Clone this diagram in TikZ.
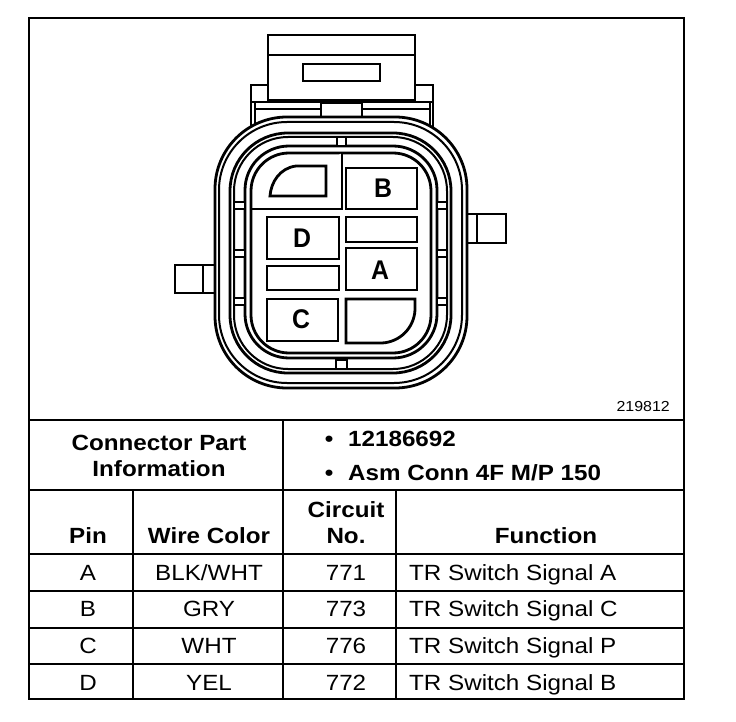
\documentclass[tikz,border=0pt]{standalone}
\usepackage{fontspec}
\setmainfont[FakeStretch=1.1]{Liberation Sans}
\newfontfamily\pinfont[FakeStretch=0.92]{Liberation Sans}
\tikzset{
  rule/.style={line width=2.8pt},
  shell/.style={line width=2pt},
  part/.style={line width=2.8pt,fill=white},
  cell/.style={inner sep=0pt,anchor=base,font=\fontsize{22}{25}\selectfont},
  head/.style={cell,font=\fontsize{22}{25}\selectfont\bfseries},
  pinletter/.style={inner sep=0pt,font=\fontsize{27}{30}\selectfont\pinfont\bfseries},
}
\begin{document}
\begin{tikzpicture}[x=1pt,y=-1pt]
   \useasboundingbox (0,0) rectangle (736,722);
   % Latch and shoulders (drawn here to be below the shell)
   \draw [part] (251,128) -- (251,85) -- (433,85) -- (433,128);
   \draw [shell] (255,128) -- (255,102) (430,128) -- (430,102);
   \draw [part] (268,35) rectangle (415,100);
   \draw [shell] (268,55) -- (415,55);
   \draw [part] (303,64) rectangle (380,81);
   \draw [part] (251,102) -- (433,102);
   \draw [shell] (255,109) -- (321,109) (362,109) -- (430,109);
   \draw [part] (321,103) rectangle (362,117);
   % Side tabs
   \draw [part] (218,265) -- (175,265) -- (175,293) -- (218,293);
   \draw [part] (203,265) -- (203,293);
   \draw [part] (467,214) -- (506,214) -- (506,243) -- (467,243);
   \draw [part] (477,214) -- (477,243);
   % Shell, outside to inside
   \draw [part,rounded corners=72] (215,117) rectangle (467,388);
   \draw [shell,rounded corners=68] (219,122) rectangle (462,383);
   \draw [part,rounded corners=58] (230,133) rectangle (451,373);
   \draw [shell,rounded corners=54] (234,137) rectangle (447,369);
   \draw [part,rounded corners=44] (245,146) rectangle (437,358);
   \draw [part,rounded corners=38] (251,153) rectangle (431,353);
   % Ribs
   \foreach \ypos in {202,250,298} {
      \draw [shell,fill=white] (234,\ypos) rectangle (245,\ypos+7);
      \draw [shell,fill=white] (437,\ypos) rectangle (447,\ypos+7);
   }
   \draw [shell,fill=white] (337,137) rectangle (346,146);
   \draw [shell,fill=white] (336,360) rectangle (347,369);
   % Cavities
   \draw [part] (342,153) -- (342,209) -- (251,209);
   \draw [part] (270,196) -- (326,196) -- (326,166) -- (296,166) .. controls (280,168) and (271,182) .. (270,196) -- cycle;
   \draw [part] (346,168) rectangle (417,209);
   \draw [part] (267,217) rectangle (339,259);
   \draw [part] (346,217) rectangle (417,242);
   \draw [part] (346,248) rectangle (417,290);
   \draw [part] (267,266) rectangle (339,290);
   \draw [part] (267,299) rectangle (338,341);
   \draw [part] (346,299) -- (415,299) -- (415,310) .. controls (414,328) and (400,342) .. (382,343) -- (346,343) -- cycle;
   \node [pinletter] (letterB) at (383,188) {B};
   \node [pinletter] (letterD) at (302,238) {D};
   \node [pinletter] (letterA) at (380,270) {A};
   \node [pinletter] (letterC) at (301,319) {C};
   % Table rules
   \draw [rule] (29,18) rectangle (684,699);
   \foreach \yrow in {420,490,554,591,628,664} {
      \draw [rule] (29,\yrow) -- (684,\yrow);
   }
   \draw [rule] (283,420) -- (283,699);
   \draw [rule] (133,490) -- (133,699);
   \draw [rule] (396,490) -- (396,699);
   % Texts
   \node [cell,font=\fontsize{14.5}{17}\selectfont,anchor=base east] (drawingno) at (670,411) {219812};
   \node [head] (partone) at (159,450) {Connector Part};
   \node [head] (parttwo) at (159,476) {Information};
   \node [head] (bulletone) at (329,446) {•};
   \node [head,anchor=base west] (partno) at (348,446) {12186692};
   \node [head] (bullettwo) at (329,480) {•};
   \node [head,anchor=base west] (partname) at (348,480) {Asm Conn 4F M/P 150};
   \node [head] (headpin) at (88,543) {Pin};
   \node [head] (headwire) at (209,543) {Wire Color};
   \node [head] (headcircuit) at (346,517) {Circuit};
   \node [head] (headno) at (346,543) {No.};
   \node [head] (headfunc) at (546,543) {Function};
   % Rows
   \foreach \pin/\wire/\cct/\func/\ybase in {
      A/{BLK/WHT}/771/A/580,
      B/GRY/773/C/616,
      C/WHT/776/P/653,
      D/YEL/772/B/690} {
      \node [cell] (pin\pin) at (88,\ybase) {\pin};
      \node [cell] (wire\pin) at (209,\ybase) {\wire};
      \node [cell] (cct\pin) at (346,\ybase) {\cct};
      \node [cell,anchor=base west] (func\pin) at (409,\ybase) {TR Switch Signal \func};
   }
\end{tikzpicture}
\end{document}
